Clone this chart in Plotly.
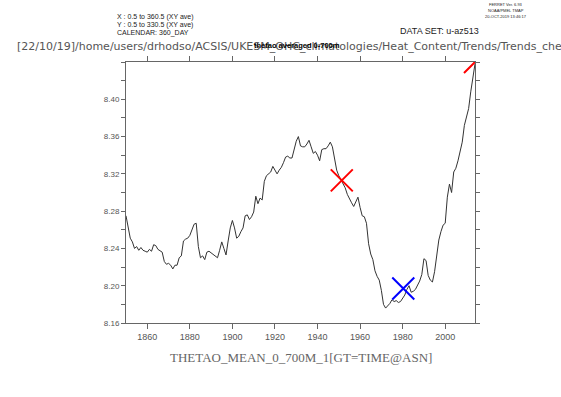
import plotly.graph_objects as go

years = list(range(1850, 2015))
thetao = [
    8.275, 8.264, 8.251, 8.247, 8.240, 8.242, 8.238, 8.241, 8.238, 8.237,
    8.236, 8.239, 8.237, 8.244, 8.243, 8.239, 8.237, 8.236, 8.226, 8.223,
    8.224, 8.222, 8.218, 8.222, 8.222, 8.230, 8.232, 8.248, 8.250, 8.251,
    8.254, 8.261, 8.266, 8.267, 8.242, 8.230, 8.232, 8.228, 8.236, 8.237,
    8.235, 8.234, 8.232, 8.230, 8.238, 8.247, 8.240, 8.233, 8.248, 8.262,
    8.270, 8.262, 8.251, 8.253, 8.258, 8.262, 8.275, 8.276, 8.271, 8.274,
    8.279, 8.296, 8.288, 8.294, 8.292, 8.312, 8.318, 8.320, 8.322, 8.328,
    8.324, 8.320, 8.324, 8.327, 8.332, 8.338, 8.339, 8.337, 8.337, 8.346,
    8.355, 8.360, 8.350, 8.349, 8.349, 8.352, 8.356, 8.349, 8.342, 8.344,
    8.340, 8.334, 8.346, 8.347, 8.347, 8.350, 8.354, 8.349, 8.336, 8.324,
    8.318, 8.314, 8.310, 8.305, 8.298, 8.293, 8.289, 8.285, 8.290, 8.295,
    8.284, 8.275, 8.274, 8.267, 8.245, 8.234, 8.228, 8.216, 8.210, 8.206,
    8.195, 8.180, 8.176, 8.178, 8.181, 8.185, 8.183, 8.184, 8.182, 8.183,
    8.186, 8.190, 8.196, 8.200, 8.193, 8.194, 8.196, 8.200, 8.205, 8.212,
    8.229, 8.227, 8.211, 8.206, 8.204, 8.215, 8.232, 8.249, 8.258, 8.265,
    8.267, 8.295, 8.309, 8.300, 8.322, 8.326, 8.334, 8.345, 8.354, 8.372,
    8.382, 8.390, 8.408, 8.425, 8.438,
]

red_x_years = [1951.4, 2014.0]
red_x_vals = [8.313, 8.440]
blue_x_years = [1980.3]
blue_x_vals = [8.197]

x_ticks = [1860, 1880, 1900, 1920, 1940, 1960, 1980, 2000]
y_ticks = [8.16, 8.20, 8.24, 8.28, 8.32, 8.36, 8.40]
y_tick_text = ["8.16", "8.20", "8.24", "8.28", "8.32", "8.36", "8.40"]
y_minor = [8.18, 8.22, 8.26, 8.30, 8.34, 8.38, 8.42, 8.44]

W, H = 561, 397
L, R, T, B = 126, 475, 62, 323

def px(x):
    return (x - L) / (R - L)

def py(y):
    return (B - y) / (B - T)

fig = go.Figure()
fig.add_trace(go.Scatter(x=years, y=thetao, mode="lines",
                         line=dict(color="#333333", width=1), showlegend=False))
fig.add_trace(go.Scatter(x=red_x_years, y=red_x_vals, mode="markers",
                         marker=dict(symbol="x-thin", size=22,
                                     line=dict(color="#ff0000", width=2)),
                         showlegend=False))
fig.add_trace(go.Scatter(x=blue_x_years, y=blue_x_vals, mode="markers",
                         marker=dict(symbol="x-thin", size=22,
                                     line=dict(color="#0000ff", width=2)),
                         showlegend=False))

axcol = "#666666"
fig.update_xaxes(range=[1850, 2014], tickvals=x_ticks, ticks="outside", ticklen=5,
                 tickcolor=axcol, showline=True, linecolor=axcol, linewidth=1,
                 mirror="ticks", showgrid=False, zeroline=False,
                 tickfont=dict(family="Liberation Sans", size=9, color="#555555"))
fig.update_yaxes(range=[8.16, 8.44], tickvals=y_ticks, ticktext=y_tick_text,
                 ticks="outside", ticklen=4, tickcolor=axcol, showline=True,
                 linecolor=axcol, linewidth=1, mirror="ticks", showgrid=False,
                 zeroline=False,
                 minor=dict(tickvals=y_minor, ticks="outside", ticklen=4,
                            tickcolor=axcol, showgrid=False),
                 tickfont=dict(family="Liberation Sans", size=8, color="#555555"))

ann = []
def add(text, x, y, size, family="Liberation Sans", color="#222222", xanchor="left"):
    ann.append(dict(text=text, x=px(x), y=py(y), xref="paper", yref="paper",
                    showarrow=False, xanchor=xanchor, yanchor="middle",
                    font=dict(family=family, size=size, color=color)))

add("X : 0.5 to 360.5 (XY ave)", 115, 17, 7)
add("Y : 0.5 to 330.5 (XY ave)", 115, 25, 7)
add("CALENDAR: 360_DAY", 115, 33, 7)
add("FERRET Ver. 6.93", 506, 5, 4, xanchor="center")
add("NOAA/PMEL TMAP", 506, 10, 4, xanchor="center")
add("20-OCT-2019 13:46:17", 506, 16, 4, xanchor="center")
add("DATA SET: u-az513", 398, 31, 9)
add("[22/10/19]/home/users/drhodso/ACSIS/UKESM_OHC_climatologies/Heat_Content/Trends/Trends_check.jnl",
    15, 47, 11, family="DejaVu Sans", color="#555555")
add("<b>thetao averaged 0-700m</b>", 297, 46, 7.5, family="Liberation Sans",
    color="#000000", xanchor="center")
add("THETAO_MEAN_0_700M_1[GT=TIME@ASN]", 300.5, 357, 13,
    family="Liberation Serif", color="#666666", xanchor="center")

fig.update_layout(width=W, height=H, autosize=False,
                  margin=dict(l=L, r=W - R, t=T, b=H - B),
                  plot_bgcolor="white", paper_bgcolor="white",
                  annotations=ann)

fig.write_html("out.html", config={"displayModeBar": False},
               post_script="document.body.style.margin='0';document.body.style.overflow='hidden';")
